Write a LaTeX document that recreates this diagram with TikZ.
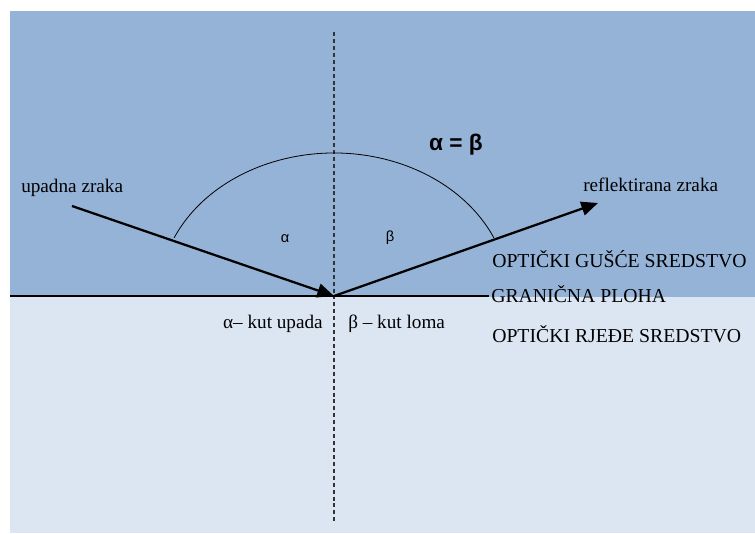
\documentclass[tikz,border=0pt]{standalone}
\usepackage{fontspec}
\setmainfont{Liberation Serif}
\newfontfamily\sansgr{Liberation Sans}
\usetikzlibrary{arrows.meta}
\definecolor{gusce}{HTML}{95B3D7}
\definecolor{rjede}{HTML}{DCE6F2}
\definecolor{okomica}{HTML}{333333}

\begin{document}
\begin{tikzpicture}[x=0.75pt,y=-0.75pt,>={Triangle[length=12.5pt,width=10.5pt]},
  zraka/.style={line width=1.7pt},
  oznaka/.style={font=\fontsize{14.4}{16}\selectfont,inner sep=0pt},
  medij/.style={font=\fontsize{14.8}{16}\selectfont,inner sep=0pt,anchor=base west},
  kutoznaka/.style={font=\sansgr\fontsize{11}{13}\selectfont,inner sep=0pt}]
  \useasboundingbox (0,0) rectangle (755,533);
  % opticki gusce i rjede sredstvo
  \fill[gusce] (10,11) rectangle (755,297);
  \fill[rjede] (10,297) rectangle (755,533);
  % okomica u tocki upada
  \coordinate (O) at (334,296);
  \coordinate (okGore) at (334,32);
  \coordinate (okDolje) at (334,523);
  \draw[okomica,line width=1pt,dash pattern=on 3pt off 2.2pt] (okGore)--(okDolje);
  % granicna ploha
  \coordinate (plLijevo) at (10,296);
  \coordinate (plDesno) at (489,296);
  \draw[line width=1.7pt] (plLijevo)--(plDesno);
  % upadna i reflektirana zraka
  \coordinate (upad) at (72,206);
  \coordinate (refl) at (598,203);
  \draw[->,zraka] (upad)--(O);
  \draw[->,zraka] (O)--(refl);
  % luk kutova
  \draw[line width=0.6pt] (O) ++(-156:175 and 143) arc[start angle=-156,end angle=-24,x radius=175,y radius=143];
  \node[kutoznaka] (alfa) at (285,239){α};
  \node[kutoznaka] (beta) at (390,238){β};
  \node[font=\sansgr\bfseries\fontsize{17}{19}\selectfont,inner sep=0pt] (jednakost) at (456,145){α = β};
  \node[oznaka,anchor=base west] (upadna) at (21,192){upadna zraka};
  \node[oznaka,anchor=base west] (reflektirana) at (583,191){reflektirana zraka};
  \node[medij] (gusceT) at (492,267){OPTIČKI GUŠĆE SREDSTVO};
  \node[medij] (ploha) at (491,302){GRANIČNA PLOHA};
  \node[medij] (rjedeT) at (492,342){OPTIČKI RJEĐE SREDSTVO};
  \node[oznaka,anchor=base east] (kutUpada) at (323,328){α– kut upada};
  \node[oznaka,anchor=base west] (kutLoma) at (348,328){β – kut loma};
\end{tikzpicture}
\end{document}
